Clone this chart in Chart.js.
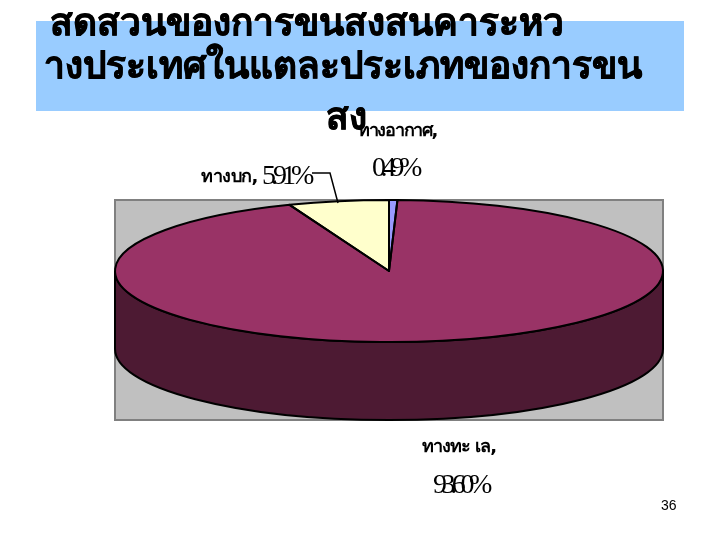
<!DOCTYPE html>
<html lang="th"><head><meta charset="utf-8">
<script src="https://cdn.jsdelivr.net/npm/chart.js@4"></script>
<style>
html,body{margin:0;padding:0;background:#fff;width:720px;height:540px;overflow:hidden}
#wrap{position:relative;width:720px;height:540px}
#band{position:absolute;left:36px;top:21px;width:648px;height:90px;background:#99CCFF}
#c{position:absolute;left:0;top:0}
.t{position:absolute;font:bold 37px "DejaVu Sans","Noto Sans",sans-serif;color:#000;white-space:nowrap;line-height:40px;-webkit-text-stroke:0.7px #000}
#num{position:absolute;left:661px;top:497px;font:14px "Liberation Sans",Arial,sans-serif;color:#000}
</style></head><body>
<div id="wrap">
<div id="band"></div>
<canvas id="c" width="720" height="540"></canvas>
<div class="t" id="t1" style="left:50px;top:3px">สดสวนของการขนสงสนคาระหว</div>
<div class="t" id="t2" style="left:44px;top:46px">างประเทศในแตละประเภทของการขน</div>
<div class="t" id="t3" style="left:326px;top:97px">สง</div>
<div id="num">36</div>
</div>
<script>
const categories=['ทางอากาศ','ทางทะ เล','ทางบก'];
const shares=[0.49,93.60,5.91];
const sliceColors=['#9999FF','#993366','#FFFFCC'];
const sideColor='#4D1A33';
const squash=71/274, depth=78;

function tracePath(ctx,a){
  ctx.moveTo(a.x,a.y);
  ctx.arc(a.x,a.y,a.outerRadius,a.startAngle,a.endAngle);
  ctx.closePath();
}
const pie3d={
  id:'pie3d',
  beforeDatasetsDraw(chart){
    const ctx=chart.ctx, arcs=chart.getDatasetMeta(0).data, a=arcs[1];
    const x=a.x,y=a.y,r=a.outerRadius,ry=r*squash;
    ctx.save();
    ctx.fillStyle='#C0C0C0';ctx.strokeStyle='#808080';ctx.lineWidth=2;
    ctx.fillRect(x-r,y-ry,2*r,2*ry+depth);ctx.strokeRect(x-r,y-ry,2*r,2*ry+depth);
    ctx.beginPath();
    ctx.ellipse(x,y,r,ry,0,0,Math.PI);
    ctx.lineTo(x-r,y+depth);
    ctx.ellipse(x,y+depth,r,ry,0,Math.PI,0,true);
    ctx.closePath();
    ctx.fillStyle=sideColor;ctx.fill();
    ctx.strokeStyle='#000';ctx.lineWidth=2;ctx.stroke();
    ctx.restore();
    ctx.save();
    ctx.translate(x,y);ctx.scale(1,squash);ctx.translate(-x,-y);
  },
  afterDatasetsDraw(chart){
    const ctx=chart.ctx, arcs=chart.getDatasetMeta(0).data;
    ctx.restore();
    arcs.forEach(a=>{
      ctx.save();
      ctx.beginPath();
      ctx.save();
      ctx.translate(a.x,a.y);ctx.scale(1,squash);ctx.translate(-a.x,-a.y);
      tracePath(ctx,a);
      ctx.restore();
      ctx.strokeStyle='#000';ctx.lineWidth=2;ctx.lineJoin='round';ctx.stroke();
      ctx.restore();
    });
    ctx.save();ctx.fillStyle='#000';ctx.textBaseline='alphabetic';ctx.textAlign='left';
    const name='bold 18px "DejaVu Sans","Noto Sans",sans-serif', val='28px "Liberation Serif",serif';
    const put=(s,f,ls,px,py)=>{ctx.font=f;ctx.letterSpacing=ls;ctx.fillText(s,px,py);};
    put(categories[0]+',',name,'-1.3px',358,136);
    put(shares[0].toFixed(2)+'%',val,'-5.5px',372,176);
    put(categories[2]+',',name,'-0.5px',201,182);
    put(shares[2].toFixed(2)+'%',val,'-5px',262,184);
    put(categories[1]+',',name,'-1px',422,452);
    put(shares[1].toFixed(2)+'%',val,'-5.4px',433,493);
    ctx.letterSpacing='0px';
    ctx.strokeStyle='#000';ctx.lineWidth=1.5;ctx.beginPath();ctx.moveTo(312,173);ctx.lineTo(330,173);ctx.lineTo(338,203);ctx.stroke();
    ctx.restore();
  }
};
new Chart(document.getElementById('c'),{
  type:'pie',
  data:{labels:categories,datasets:[{data:shares,backgroundColor:sliceColors,borderWidth:0,radius:274}]},
  options:{responsive:false,animation:false,layout:{padding:{left:58,right:0,top:2,bottom:0}},
    plugins:{legend:{display:false},tooltip:{enabled:false},title:{display:false}}},
  plugins:[pie3d]
});
</script>
</body></html>
